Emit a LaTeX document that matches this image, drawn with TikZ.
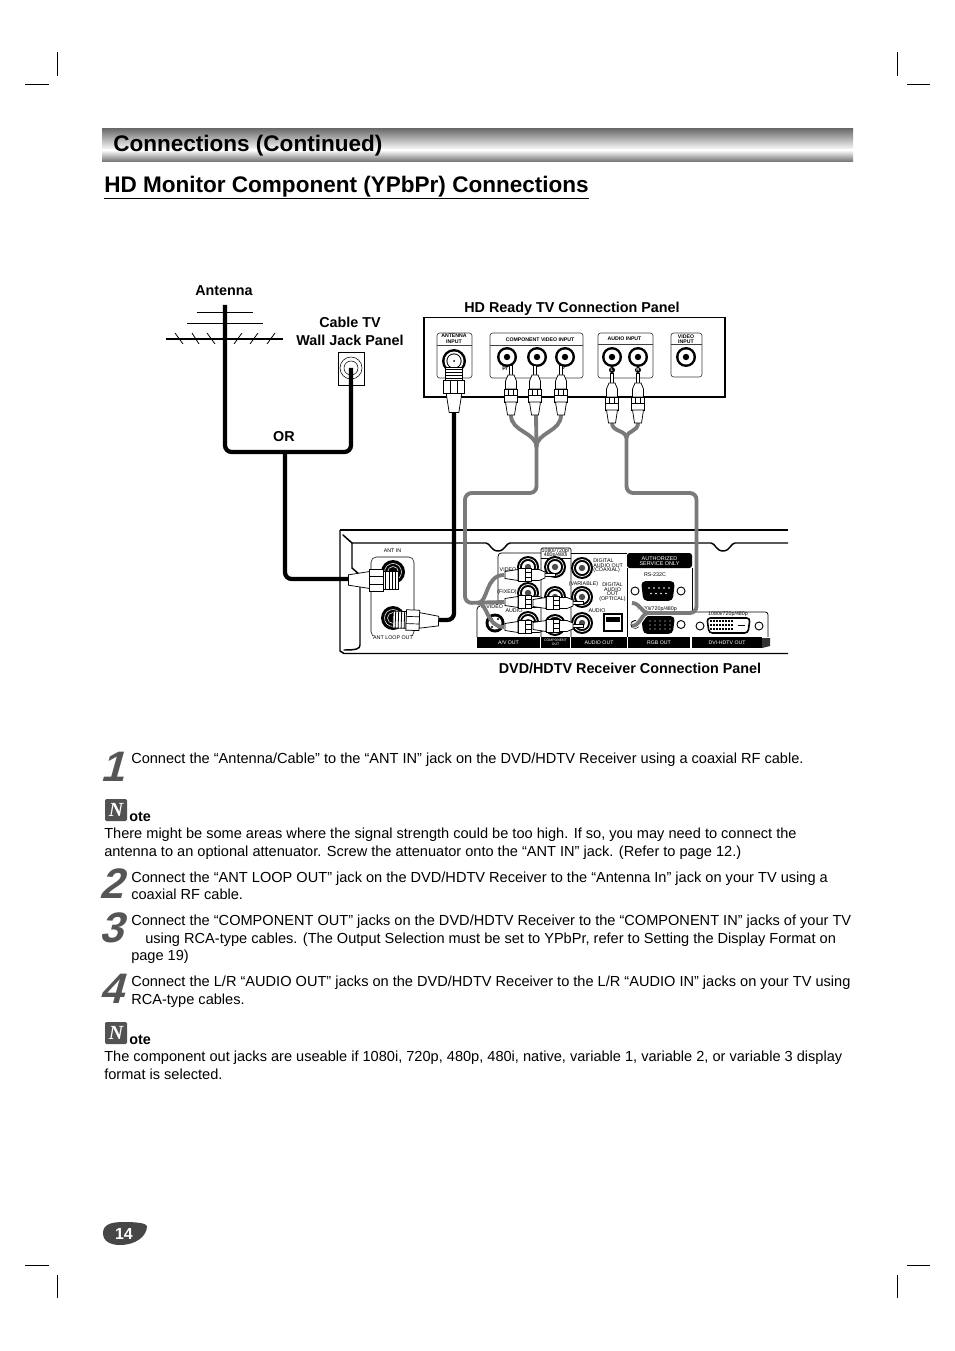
\documentclass[tikz,border=0pt]{standalone}
\usepackage{fontspec}
\setmainfont{Liberation Sans}
\newfontfamily\notefont{Liberation Serif}
\newcommand{\fsz}[1]{\fontsize{#1}{#1}\selectfont}
\usetikzlibrary{calc}
\definecolor{cablegray}{HTML}{7A7A7A}
\definecolor{bandgray}{HTML}{6E6E6E}
\definecolor{digitgray}{HTML}{555555}
\tikzset{
  x=0.75pt,y=-0.75pt,
  crop/.style={line width=0.6pt,black},
  bodytext/.style={anchor=base west,inner sep=0,font=\fsz{10.93}},
  labeltext/.style={anchor=center,inner sep=0,font=\fsz{10.76}\bfseries},
  notelabel/.style={anchor=base west,inner sep=0,font=\fsz{10.76}\bfseries},
  bigdigit/.style={anchor=center,inner sep=0,text=digitgray,xslant=0.28,font=\fsz{32}\bfseries},
  notebox/.style={fill=black!68,rounded corners=1pt,minimum width=16.5pt,minimum height=16.5pt,inner sep=0,text=white,font=\notefont\fsz{15}\bfseries\itshape},
  tinylabel/.style={anchor=center,inner sep=0,align=center,font=\fsz{3.9}\bfseries},
  paneltext/.style={anchor=center,inner sep=0,align=center,font=\fsz{4}},
  barlabel/.style={fill=black,text=white,inner sep=0,font=\fsz{3.9}},
  panelbox/.style={draw=black!75,line width=0.5pt,rounded corners=2pt},
  coaxblack/.style={draw=black,line width=3.2pt,rounded corners=5pt,line cap=round},
  cablegrey/.style={draw=cablegray,line width=2.9pt,rounded corners=5pt,line cap=butt},
  halo/.style={draw=white,line width=4.4pt,rounded corners=5pt},
  part/.style={draw=black,line width=0.55pt,fill=white},
  rcaplug/.pic={
    \draw[part] (-1.5,0) -- (1.5,0) -- (1.5,12) -- (-1.5,12) -- cycle;
    \draw[part] (-3,10) -- (3,10) -- (5.5,16) -- (5.5,24) -- (-5.5,24) -- (-5.5,16) -- cycle;
    \draw[part] (-6.5,24) rectangle (6.5,37);
    \draw[line width=0.5pt] (-6.5,30) -- (6.5,30) (-2.5,24) -- (-2.5,30) (2.5,24) -- (2.5,30);
    \draw[part] (-5.5,37) -- (5.5,37) -- (3.5,50) -- (-3.5,50) -- cycle;
  },
  coaxplug/.pic={
    \draw[part] (-7,0) rectangle (7,11);
    \foreach \q in {2,4.5,7,9.5}{\draw[line width=0.6pt] (-7,\q) -- (7,\q);}
    \draw[part] (-8.5,11) -- (8.5,11) -- (8.5,22) -- (-8.5,22) -- cycle;
    \draw[line width=0.5pt] (-3,11) -- (-3,22) (3,11) -- (3,22);
    \draw[part] (-6.5,22) -- (6.5,22) -- (4,38) -- (-4,38) -- cycle;
  },
  tvjack/.pic={
    \fill[black] (0,0) circle (10);
    \fill[white] (0,0) circle (7.5);
    \fill[black] (0,0) circle (3.2);
  },
  recjack/.pic={
    \fill[black] (0,0) circle (11);
    \draw[white,line width=0.55pt] (0,0) circle (8.5);
    \fill[white] (0,0) circle (6);
    \fill[black!70] (0,0) circle (3.2);
  },
  screwhole/.pic={\draw[black,line width=0.7pt,fill=white] (0,0) circle (4);},
}
\begin{document}
\begin{tikzpicture}
\useasboundingbox (0,0) rectangle (954,1351);
\fill[white] (0,0) rectangle (954,1351);

%% crop marks
\draw[crop] (57,52) -- (57,76) (25,84) -- (49,84);
\draw[crop] (897,52) -- (897,76) (907,84) -- (930,84);
\draw[crop] (57,1275) -- (57,1298) (25,1265) -- (49,1265);
\draw[crop] (897,1275) -- (897,1298) (907,1265) -- (930,1265);

%% header band
\shade[top color=bandgray,bottom color=white] (102,129) rectangle (853,150);
\shade[top color=white,bottom color=bandgray] (102,150) rectangle (853,162);
\node[anchor=base west,inner sep=0,font=\fsz{16.9}\bfseries] (title) at (113,152) {Connections (Continued)};
\node[anchor=base west,inner sep=0,font=\fsz{16.9}\bfseries] (heading) at (104,193) {HD Monitor Component (YPbPr) Connections};
\draw[line width=0.7pt] (104,198.5) -- (589,198.5);

%% antenna
\draw[line width=2.2pt] (166,339) -- (283,339);
\draw[line width=0.9pt] (197,312.5) -- (253,312.5);
\draw[line width=1.1pt] (187,323.5) -- (263,323.5);
\draw[line width=0.6pt] (175,333) -- (183,344) (192,333) -- (199,344) (207,333) -- (215,344)
  (242,333) -- (234,344) (258,333) -- (250,344) (275,333) -- (267,344);
\node[draw,line width=0.6pt,minimum width=19.5pt,minimum height=24.75pt,inner sep=0] (walljack) at (351,368.5) {};
\draw[line width=0.4pt] (351,368) circle (11) (351,368) circle (7);
\coordinate (mast) at (225,305);
\coordinate (wjcore) at (351,368);
\coordinate (wcorner) at (225,452);
\coordinate (ecorner) at (351,452);
\coordinate (ortee) at (285,452);
\coordinate (inelbow) at (285,579);
\coordinate (antinend) at (350,579);
\draw[coaxblack,line cap=butt] (mast) -- (wcorner) -- (ecorner) -- (wjcore);
\draw[coaxblack,line cap=butt] (ortee) -- (inelbow) -- (antinend);

%% labels
\node[labeltext] (lblant) at (224,291) {Antenna};
\node[labeltext] (lblcable) at (350,322) {Cable TV};
\node[labeltext] (lblwall) at (350,340) {Wall Jack Panel};
\node[labeltext] (lblhd) at (572,308.5) {HD Ready TV Connection Panel};
\node[labeltext] (lblor) at (284,437) {OR};
\node[labeltext] (lbldvd) at (630,668) {DVD/HDTV Receiver Connection Panel};

%% TV panel
\draw[line width=0.8pt] (424,317.5) rectangle (725,397);
\draw[panelbox] (437,333) rectangle (472,378);
\draw[panelbox] (490,333) rectangle (583,378);
\draw[panelbox] (598,333) rectangle (653,378);
\draw[panelbox] (671,333) rectangle (702,377);
\draw[line width=0.5pt,black!75] (437,345.5) -- (472,345.5) (490,345.5) -- (583,345.5) (598,344) -- (653,344) (671,344.5) -- (702,344.5);
\node[tinylabel] (tvant) at (454,339) {ANTENNA\\[0.6pt]INPUT};
\node[tinylabel] (tvcomp) at (540,340) {COMPONENT VIDEO INPUT};
\node[tinylabel] (tvaud) at (624.5,338.5) {AUDIO INPUT};
\node[tinylabel] (tvvid) at (686,339) {VIDEO\\[0.2pt]INPUT};
\fill[black] (454,361) circle (12);
\fill[white] (454,361) circle (9.5);
\fill[black] (454,361) circle (7.6);
\fill[white] (454,361) circle (6.6);
\fill[black] (454,361) circle (1);
\pic at (507,357) {tvjack};
\pic at (537,357) {tvjack};
\pic at (565,357) {tvjack};
\pic at (612,357) {tvjack};
\pic at (638,357) {tvjack};
\pic at (686,357) {tvjack};
\node[font=\fsz{3.9}\bfseries,inner sep=0] (tvpr) at (505,368.5) {Pr};
\node[font=\fsz{3.9}\bfseries,inner sep=0] (tvpb) at (563,368.5) {P};
\fill[black] (612,370) circle (3);
\fill[black] (638,370) circle (3);
\node[font=\fsz{3.2}\bfseries,inner sep=0,text=white] (tvl) at (612,370) {L};
\node[font=\fsz{3.2}\bfseries,inner sep=0,text=white] (tvr) at (638,370) {R};

%% receiver chassis
\draw[line width=1.1pt] (340,530) -- (788,530);
\draw[line width=1.1pt] (788,653.5) -- (344,653.5) -- (340,651) -- (340,530);
\draw[line width=1.1pt] (352,543) -- (486,543) .. controls (490,543) and (491,551) .. (498,551) .. controls (505,551) and (506,543) .. (510,543) -- (711,543) .. controls (715,543) and (716,551) .. (723,551) .. controls (730,551) and (731,543) .. (735,543) -- (788,543);
\draw[line width=1.1pt,line cap=round] (343,535) -- (352,543) -- (352,568) -- (360,575) -- (360,645) .. controls (360,649) and (356,650) .. (344,650);

%% ANT jacks
\draw[line width=0.4pt,rounded corners=4pt] (371,557) rectangle (414,637);
\node[paneltext] (antin) at (392.5,551) {ANT IN};
\node[paneltext] (antloop) at (393,637.5) [fill=white,inner xsep=1pt] {ANT LOOP OUT};
\fill[black] (393,572) circle (12);
\draw[white,line width=0.4pt] (393,572) circle (8.5) (393,572) circle (5.5);
\fill[black] (393,618) circle (12);
\draw[white,line width=0.4pt] (393,618) circle (8.5) (393,618) circle (5.5);

%% rear panel outline
\draw[line width=0.55pt,rounded corners=2.5pt] (477,637) -- (477,606) -- (498,606) -- (498,553) -- (541,553);
\draw[line width=0.55pt,rounded corners=1pt] (541,637) -- (541,548) -- (571,548) -- (571,637);
\draw[line width=0.55pt,rounded corners=2.5pt] (571,553) -- (627,553);
\draw[line width=0.55pt] (627.5,568) -- (627.5,637) (692,568) -- (692,612);
\draw[line width=0.55pt,rounded corners=2pt] (692,612) -- (768,612) -- (768,637);
\draw[line width=0.7pt] (541,558.5) -- (571,558.5);
\fill[black,rounded corners=2pt] (627,553) -- (692,553) -- (692,568) -- (627,568) -- cycle;
\node[inner sep=0,align=center,text=white,font=\fsz{4.1}] (authlbl) at (659.5,561) {AUTHORIZED\\[-0.2pt]SERVICE ONLY};
\node[barlabel,minimum width=47.25pt,minimum height=8.25pt] (barav) at (508.5,642.5) {A/V OUT};
\node[barlabel,minimum width=21.5pt,minimum height=8.25pt,align=center,font=\fsz{2.6}] (barcomp) at (555.5,642.5) {COMPONENT\\OUT};
\node[barlabel,minimum width=42pt,minimum height=8.25pt] (baraudio) at (599,642.5) {AUDIO OUT};
\node[barlabel,minimum width=46.5pt,minimum height=8.25pt] (barrgb) at (659,642.5) {RGB OUT};
\fill[black!80] (762,638) -- (770,638) -- (770,646) -- (762,648) -- cycle;
\node[barlabel,minimum width=52.5pt,minimum height=8.25pt] (bardvi) at (727,642.5) {DVI-HDTV OUT};

\node[paneltext] (p1080) at (555.5,553) {1080i/720p/\\[-0.6pt]480p/480i};
\node[paneltext] (pvideo) at (508,570) {VIDEO};
\node[paneltext] (pfixed) at (507,592) {(FIXED)};
\node[paneltext] (paudio) at (514,611) {AUDIO};
\node[paneltext] (psv) at (492,607) [fill=white,inner xsep=0.5pt] {S-VIDEO};
\node[paneltext,align=left,anchor=west] (pdig) at (593,566) {DIGITAL\\[-0.6pt]AUDIO OUT\\[-0.6pt](COAXIAL)};
\node[paneltext] (pvar) at (583.5,584) {(VARIABLE)};
\node[paneltext] (pdig2) at (612.5,592) {DIGITAL\\[-0.6pt]AUDIO\\[-0.6pt]OUT\\[-0.6pt](OPTICAL)};
\node[paneltext] (paud2) at (597,611) {AUDIO};
\node[paneltext] (prs) at (655,575) {RS-232C};
\node[paneltext] (p720) at (657,609) {1080i/720p/480p};
\node[paneltext] (pdvi) at (728,614.5) {1080i/720p/480p};

%% rear jacks
\foreach \jx/\jy in {528/567,528/593,528/622,555/567,555/597,555/625,582/568,582/597,582/623}{
  \pic at (\jx,\jy) {recjack};
}
% s-video
\fill[black] (495,623) circle (9.5);
\fill[white] (495,623) circle (6.5);
\fill[black] (492,619) circle (1.2) (498,619) circle (1.2) (492,627) circle (1.2) (498,627) circle (1.2) (495,623) circle (1.4);
% optical
\draw[line width=0.9pt,fill=white] (604,614) rectangle (622,631);
\fill[black] (606,617) rectangle (620,622);

% D-sub connectors
\pic at (635,591) {screwhole};
\pic at (681,591) {screwhole};
\pic at (635,624.5) {screwhole};
\pic at (681,624.5) {screwhole};
\pic at (700,626) {screwhole};
\pic at (759,626) {screwhole};
\draw[line width=1.2pt,fill=black,rounded corners=2.5pt] (642,582) -- (674,582) -- (672,600) -- (644,600) -- cycle;
\draw[line width=1.2pt,fill=black,rounded corners=2.5pt] (642,617) -- (674,617) -- (672,633) -- (644,633) -- cycle;
\foreach \dx in {649,654,659,664,669}{\fill[white] (\dx,588) circle (0.9);}
\foreach \dx in {651,656,661,666}{\fill[white] (\dx,593.5) circle (0.9);}
\foreach \dx in {650,655,660,665,670}{\fill[white] (\dx,621) circle (0.7) (\dx,625) circle (0.7) (\dx,629) circle (0.7);}
\draw[line width=1.2pt,fill=white,rounded corners=2.5pt] (707,618) -- (750,618) -- (748,633) -- (709,633) -- cycle;
\foreach \dy in {621,625,629}{
  \foreach \dx in {711,714,717,720,723,726,729,732}{\fill[black] (\dx-1,\dy-1.4) rectangle (\dx+1,\dy+1.4);}
}
\draw[line width=1pt] (738,625.5) -- (745,625.5);

%% cables: antenna loop
\coordinate (tvanttail) at (454,412);
\coordinate (loopelbow) at (454,620);
\coordinate (looptail) at (436,620);
\draw[coaxblack,line cap=butt] (tvanttail) -- (loopelbow) -- (looptail);

%% cables: component (grey)
\coordinate (cpa) at (511,415);
\coordinate (cpb) at (536,415);
\coordinate (cpc) at (561,415);
\coordinate (cpm) at (536.5,447);
\coordinate (cpd) at (536.5,493);
\coordinate (cpe) at (465,493);
\coordinate (cpf) at (465,603);
\coordinate (cpg) at (478,603);
\coordinate (cph) at (504,575);
\coordinate (cpi) at (504,602);
\coordinate (cpj) at (504,627);
\draw[cablegrey,rounded corners=0pt] (cpa) .. controls (511,432) and (536,432) .. (cpm);
\draw[cablegrey,rounded corners=0pt] (cpc) .. controls (561,432) and (537,432) .. (cpm);
\draw[cablegrey,rounded corners=0pt] (cpb) -- (cpm);
\draw[cablegrey] (cpm) -- (cpd) -- (cpe) -- (cpf) -- (cpi);
\draw[cablegrey,rounded corners=0pt] (cpg) .. controls (488,603) and (485,575) .. (cph);
\draw[cablegrey,rounded corners=0pt] (cpg) .. controls (488,603) and (486,627) .. (cpj);

%% cables: audio (grey)
\coordinate (apa) at (612,423);
\coordinate (apb) at (638,423);
\coordinate (apm) at (626.5,438);
\coordinate (apd) at (626.5,493);
\coordinate (ape) at (696.5,493);
\coordinate (apf) at (696.5,613);
\coordinate (apg) at (648,613);
\coordinate (aph) at (632,603);
\coordinate (api) at (632,626);
\draw[cablegrey,rounded corners=0pt] (apa) .. controls (612,432) and (626,430) .. (apm);
\draw[cablegrey,rounded corners=0pt] (apb) .. controls (638,432) and (627,430) .. (apm);
\draw[halo,rounded corners=0pt] (aph) .. controls (640,603) and (642,613) .. (apg);
\draw[halo,rounded corners=0pt] (api) .. controls (640,626) and (642,613) .. (apg);
\draw[cablegrey] (apm) -- (apd) -- (ape) -- (apf) -- (apg);
\draw[cablegrey,rounded corners=0pt] (aph) .. controls (640,603) and (642,613) .. (apg);
\draw[cablegrey,rounded corners=0pt] (api) .. controls (640,626) and (642,613) .. (apg);

%% plugs: TV side
\pic[scale=1.2] at (454,367) {coaxplug};
\pic at (511,365) {rcaplug};
\pic at (535,365) {rcaplug};
\pic at (561,365) {rcaplug};
\pic at (612,373) {rcaplug};
\pic at (638,373) {rcaplug};

%% plugs: receiver side
\pic[rotate=-90] at (555,575) {rcaplug};
\pic[rotate=-90] at (555,602) {rcaplug};
\pic[rotate=-90] at (555,627) {rcaplug};
\pic[rotate=-90] at (583,603) {rcaplug};
\pic[rotate=-90] at (583,626) {rcaplug};

%% coax plugs at receiver
\pic[rotate=-90,scale=1.3] at (398,580) {coaxplug};
\pic[rotate=88,scale=1.2] at (393,619.5) {coaxplug};

%% body text
\node[bigdigit] (d1) at (116,767) {1};
\node[bigdigit] (d2) at (115.5,884) {2};
\node[bigdigit] (d3) at (115.5,928) {3};
\node[bigdigit] (d4) at (115.5,989) {4};
\node[bodytext] (t1) at (131,763) {Connect the “Antenna/Cable” to the “ANT IN” jack on the DVD/HDTV Receiver using a coaxial RF cable.};
\node[notebox] (n1) at (116,810) {N};
\node[notelabel] (o1) at (129,821) {ote};
\node[bodytext] (t2) at (104,838) {There might be some areas where the signal strength could be too high. If so, you may need to connect the};
\node[bodytext] (t3) at (104,856) {antenna to an optional attenuator. Screw the attenuator onto the “ANT IN” jack. (Refer to page 12.)};
\node[bodytext] (t4) at (131,882) {Connect the “ANT LOOP OUT” jack on the DVD/HDTV Receiver to the “Antenna In” jack on your TV using a};
\node[bodytext] (t5) at (131,899) {coaxial RF cable.};
\node[bodytext] (t6) at (131,925) {Connect the “COMPONENT OUT” jacks on the DVD/HDTV Receiver to the “COMPONENT IN” jacks of your TV};
\node[bodytext] (t7) at (145,943) {using RCA-type cables. (The Output Selection must be set to YPbPr, refer to Setting the Display Format on};
\node[bodytext] (t8) at (131,960) {page 19)};
\node[bodytext] (t9) at (131,986) {Connect the L/R “AUDIO OUT” jacks on the DVD/HDTV Receiver to the L/R “AUDIO IN” jacks on your TV using};
\node[bodytext] (t10) at (131,1004) {RCA-type cables.};
\node[notebox] (n2) at (116,1033) {N};
\node[notelabel] (o2) at (129,1044) {ote};
\node[bodytext] (t11) at (104,1061) {The component out jacks are useable if 1080i, 720p, 480p, 480i, native, variable 1, variable 2, or variable 3 display};
\node[bodytext] (t12) at (104,1079) {format is selected.};

%% page badge
\path[fill=black!72] (103,1233) .. controls (103,1224) and (112,1222) .. (124,1222) .. controls (136,1222) and (146,1223) .. (147,1226) .. controls (147,1236) and (136,1245) .. (120,1245) .. controls (110,1245) and (103,1241) .. (103,1233) -- cycle;
\node[inner sep=0,text=white,font=\fsz{12}\bfseries] (pg) at (124,1234) {14};
\end{tikzpicture}
\end{document}
